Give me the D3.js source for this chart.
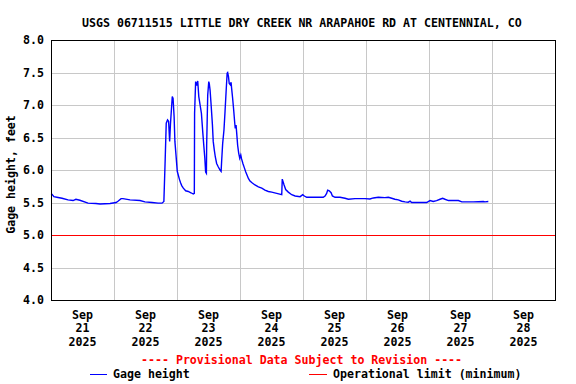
<!DOCTYPE html>
<html>
<head>
<meta charset="utf-8">
<script src="https://cdn.jsdelivr.net/npm/d3@7"></script>
<style>
  body { margin: 0; background: #fff; }
  text { font-family: "DejaVu Sans Mono", monospace; font-weight: bold; font-size: 11.6px; }
</style>
</head>
<body>
<svg width="576" height="384"></svg>
<script>
// hours since 2025-09-21 00:00 and gage height (feet)
var hours = [0, 0.4, 1.1, 2.7, 4.2, 6.5, 8.4, 9.5, 11.0, 14.1, 17.1, 18.7, 22.5, 24.8, 25.5, 26.7, 27.4,
  30.1, 33.9, 35.8, 38.5, 40.8, 42.3, 43.0, 43.5, 43.9, 44.4, 44.8, 45.2, 45.5, 46.2, 46.5, 46.9,
  47.2, 47.6, 48.1, 48.5, 48.9, 49.4, 49.8, 50.4, 51.3, 52.3, 53.3, 54.2, 54.6, 54.7, 55.1, 55.5,
  55.9, 56.3, 56.8, 57.3, 57.8, 58.2, 58.6, 58.9, 59.2, 59.3, 59.7, 60.1, 60.3, 60.6, 61.0, 61.5,
  61.8, 62.2, 62.6, 63.1, 63.7, 64.4, 64.8, 65.0, 65.4, 65.9, 66.3, 66.7, 67.1, 67.3, 67.6, 67.9,
  68.3, 68.6, 68.8, 69.2, 69.6, 70.0, 70.2, 70.5, 70.7, 71.1, 71.5, 71.9, 72.3, 72.6, 73.1, 73.6,
  74.2, 74.7, 75.2, 75.8, 76.7, 77.7, 79.0, 80.3, 81.5, 82.8, 84.1, 86.0, 87.9, 88.1, 88.8, 89.4,
  90.4, 91.7, 93.0, 94.9, 95.9, 96.5, 97.4, 103.7, 104.4, 105.0, 105.4, 106.0, 106.7, 107.2, 108.2,
  110.1, 112.0, 113.3, 115.8, 119.6, 121.5, 122.8, 124.7, 127.2, 128.5, 129.8, 131.0, 132.3, 133.6,
  134.9, 136.1, 136.8, 137.4, 143.1, 144.4, 145.6, 146.9, 148.2, 149.2, 150.1, 151.4, 155.2, 156.5,
  160.9, 164.7, 165.3, 166.6];
var gage = [5.63, 5.626, 5.59, 5.577, 5.565, 5.54, 5.53, 5.55, 5.535, 5.49, 5.485, 5.477, 5.485, 5.50, 5.52, 5.56, 5.56,
  5.54, 5.53, 5.51, 5.50, 5.49, 5.49, 5.515, 6.16, 6.72, 6.77, 6.75, 6.44, 6.70, 7.13, 7.10, 6.82,
  6.44, 6.24, 5.98, 5.92, 5.86, 5.80, 5.76, 5.72, 5.68, 5.67, 5.65, 5.63, 5.64, 6.87, 7.36, 7.30,
  7.37, 7.13, 7.00, 6.87, 6.59, 6.38, 6.18, 5.97, 5.95, 6.38, 7.15, 7.36, 7.33, 7.23, 7.00, 6.69,
  6.44, 6.31, 6.20, 6.10, 6.05, 6.00, 5.98, 6.13, 6.41, 6.62, 6.90, 7.20, 7.49, 7.50, 7.44, 7.33,
  7.31, 7.35, 7.26, 7.10, 6.92, 6.72, 6.64, 6.69, 6.59, 6.38, 6.26, 6.18, 6.23, 6.17, 6.10, 6.04,
  5.97, 5.92, 5.87, 5.83, 5.80, 5.77, 5.74, 5.72, 5.69, 5.67, 5.66, 5.64, 5.62, 5.86, 5.77, 5.70,
  5.66, 5.62, 5.60, 5.59, 5.62, 5.60, 5.58, 5.58, 5.60, 5.64, 5.69, 5.68, 5.65, 5.60, 5.58,
  5.58, 5.565, 5.55, 5.56, 5.56, 5.555, 5.57, 5.58, 5.575, 5.58, 5.565, 5.55, 5.54, 5.52,
  5.51, 5.505, 5.52, 5.50, 5.50, 5.53, 5.515, 5.53, 5.55, 5.565, 5.55, 5.53, 5.53, 5.51,
  5.51, 5.515, 5.51, 5.515];
var days = [21, 22, 23, 24, 25, 26, 27, 28];
var yTicks = [4.0, 4.5, 5.0, 5.5, 6.0, 6.5, 7.0, 7.5, 8.0];
var limitValue = 5.0;
var titleText = 'USGS 06711515 LITTLE DRY CREEK NR ARAPAHOE RD AT CENTENNIAL, CO';

var plotLeft = 51, plotRight = 555, plotTop = 40, plotBottom = 300;
var start = Date.UTC(2025, 8, 21);
var hr = 3600000;

var svg = d3.select('svg');
var x = d3.scaleUtc().domain([new Date(start), new Date(start + 8 * 24 * hr)]).range([plotLeft, plotRight]);
var y = d3.scaleLinear().domain([4, 8]).range([plotBottom, plotTop]);

// grid
svg.append('g').selectAll('line').data(days.slice(1)).enter().append('line')
    .attr('x1', function(d) { return Math.round(x(new Date(Date.UTC(2025, 8, d)))) + 0.5; })
    .attr('x2', function(d) { return Math.round(x(new Date(Date.UTC(2025, 8, d)))) + 0.5; })
    .attr('y1', plotTop).attr('y2', plotBottom)
    .style('stroke', '#c8c8c8').style('stroke-width', 1);
svg.append('g').selectAll('line')
    .data(yTicks.slice(1, -1).filter(function(d) { return d !== limitValue; }))
    .enter().append('line')
    .attr('x1', plotLeft).attr('x2', plotRight)
    .attr('y1', function(d) { return Math.round(y(d)) + 0.5; })
    .attr('y2', function(d) { return Math.round(y(d)) + 0.5; })
    .style('stroke', '#c8c8c8').style('stroke-width', 1);

// operational limit, 1px red band
svg.append('rect')
    .attr('x', plotLeft + 1).attr('width', plotRight - plotLeft - 1)
    .attr('y', Math.round(y(limitValue)) - 0.5).attr('height', 1.5)
    .attr('fill', '#ff0000')
    .style('shape-rendering', 'crispEdges');

// series
var pts = hours.map(function(h, i) { return [new Date(start + h * hr), gage[i]]; });
var line = d3.line().x(function(d) { return x(d[0]); }).y(function(d) { return y(d[1]); });
svg.append('path').datum(pts).attr('d', line)
    .style('fill', 'none').style('stroke', '#0000ff').style('stroke-width', 1.4)
    .style('stroke-linejoin', 'miter');

// frame
svg.append('rect').attr('x', plotLeft + 0.5).attr('y', plotTop + 0.5)
    .attr('width', plotRight - plotLeft).attr('height', plotBottom - plotTop)
    .style('fill', 'none').style('stroke', '#000').style('stroke-width', 1);

// title
svg.append('text').attr('x', 82).attr('y', 26.5).text(titleText);

// y tick labels
svg.append('g').selectAll('text').data(yTicks).enter().append('text')
    .attr('x', 44).attr('y', function(d) { return y(d) + 4; })
    .attr('text-anchor', 'end')
    .text(function(d) { return d.toFixed(1); });

// y title
svg.append('text')
    .attr('transform', 'translate(15,174.5) rotate(-90)')
    .attr('text-anchor', 'middle')
    .text('Gage height, feet');

// x tick labels, centred on noon of each day
var xl = svg.append('g').selectAll('text').data(days).enter().append('text')
    .attr('text-anchor', 'middle')
    .attr('transform', function(d) { return 'translate(' + x(new Date(Date.UTC(2025, 8, d, 12))) + ',0)'; });
xl.append('tspan').attr('x', 0).attr('y', 318.5).text('Sep');
xl.append('tspan').attr('x', 0).attr('y', 332).text(function(d) { return d; });
xl.append('tspan').attr('x', 0).attr('y', 345.5).text('2025');

// provisional note
svg.append('text').attr('x', 141).attr('y', 364).style('fill', '#ff0000')
    .text('---- Provisional Data Subject to Revision ----');

// legend
svg.append('line').attr('x1', 90).attr('x2', 107).attr('y1', 374.5).attr('y2', 374.5)
    .style('stroke', '#0000ff').style('stroke-width', 1).style('shape-rendering', 'crispEdges');
svg.append('text').attr('x', 113).attr('y', 378).text('Gage height');
svg.append('line').attr('x1', 309).attr('x2', 327).attr('y1', 374.5).attr('y2', 374.5)
    .style('stroke', '#ff0000').style('stroke-width', 1).style('shape-rendering', 'crispEdges');
svg.append('text').attr('x', 333).attr('y', 378).text('Operational limit (minimum)');
</script>
</body>
</html>
